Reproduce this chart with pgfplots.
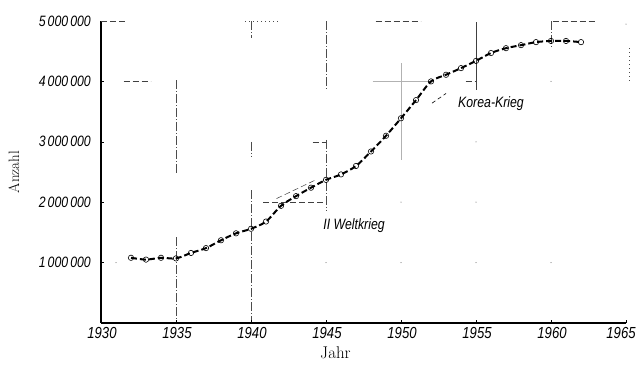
\documentclass[border=0pt]{standalone}
\usepackage{pgfplots}
\pgfplotsset{compat=1.18}
\usepackage{fontspec}
% narrow italic lettering for numbers and notes
\newfontfamily\hand[FakeStretch=0.82]{Liberation Sans}

\pgfplotstableread{
year  count
1932  1080000
1933  1050000
1934  1080000
1935  1070000
1936  1160000
1937  1240000
1938  1370000
1939  1485000
1940  1560000
1941  1680000
1942  1940000
1943  2100000
1944  2240000
1945  2370000
1946  2460000
1947  2600000
1948  2840000
1949  3100000
1950  3390000
1951  3690000
1952  4000000
1953  4110000
1954  4220000
1955  4340000
1956  4470000
1957  4550000
1958  4600000
1959  4650000
1960  4670000
1961  4670000
1962  4650000
}\bestand

\tikzset{
  gridfrag/.style={black!70, line width=0.5pt, dash pattern=on 9pt off 2pt on 1pt off 2pt},
  gridfaint/.style={black!30, line width=0.6pt},
  griddash/.style={black!75, line width=0.5pt, dash pattern=on 6pt off 3pt},
  griddot/.style={black!70, line width=0.5pt, dash pattern=on 1pt off 3pt},
  gdot/.style={black!70, line width=0pt},
}

\begin{document}
\begin{tikzpicture}
\begin{axis}[
  name=ax,
  scale only axis, width=525pt, height=302pt,
  xmin=1930, xmax=1965, ymin=0, ymax=5000000,
  axis x line=bottom, axis y line=left,
  axis line style={line width=1.1pt, -},
  xtick={1930,1935,1940,1945,1950,1955,1960},
  xticklabels={1930,1935,1940,1945,1950,1955,1960},
  extra x ticks={1965},
  extra x tick labels={1965},
  extra x tick style={xticklabel style={xshift=-6pt}},
  ytick={1000000,2000000,3000000,4000000,5000000},
  yticklabels={1\hspace{2pt}000\hspace{2pt}000,2\hspace{2pt}000\hspace{2pt}000,3\hspace{2pt}000\hspace{2pt}000,4\hspace{2pt}000\hspace{2pt}000,5\hspace{2pt}000\hspace{2pt}000},
  scaled y ticks=false,
  tick align=inside, major tick length=3pt,
  tick style={line width=0.5pt, black},
  xticklabel style={font=\hand\itshape\fontsize{16}{16}\selectfont, xshift=1pt, inner sep=1pt, yshift=-3pt},
  yticklabel style={font=\hand\itshape\fontsize{15}{15}\selectfont, inner sep=1pt, xshift=-9pt},
  xlabel={\addfontfeatures{LetterSpace=25}Jahr},
  ylabel={\addfontfeatures{LetterSpace=5}Anzahl},
  xlabel style={font=\fontsize{17}{17}\selectfont, at={(axis description cs:0.5,0)}, anchor=center, xshift=-28pt, yshift=-30pt},
  ylabel style={font=\fontsize{15}{15}\selectfont, at={(axis description cs:0,0.5)}, anchor=center, yshift=87pt},
  clip=false,
]
% remnants of the background grid
\draw[gridfrag] (1935,4020000) -- (1935,2480000);
\draw[gridfrag] (1935,1420000) -- (1935,50000);
\draw[gridfrag] (1940,5000000) -- (1940,4720000);
\draw[gridfrag] (1940,3000000) -- (1940,2750000);
\draw[gridfrag] (1940,2200000) -- (1940,50000);
\draw[gridfrag] (1945,5000000) -- (1945,3890000);
\draw[gridfrag] (1945,3030000) -- (1945,1870000);
\draw[black!75, line width=0.5pt] (1955,4980000) -- (1955,3860000);
\draw[gridfrag] (1960,5000000) -- (1960,4550000);
\draw[gridfaint] (1950,4300000) -- (1950,2700000);
\draw[gridfaint] (1948.1,4000000) -- (1951.9,4000000);
\draw[griddash] (1930,5000000) -- (1931.6,5000000);
\draw[griddot] (1939.6,5000000) -- (1941.8,5000000);
\draw[griddash] (1948.3,5000000) -- (1951.3,5000000);
\draw[griddash] (1960.1,5000000) -- (1962.9,5000000);
\draw[griddash] (1931.5,4000000) -- (1933.3,4000000);
\draw[griddash] (1954.3,4000000) -- (1955,4000000);
\draw[griddash] (1940.8,2000000) -- (1945,2000000);
\draw[griddash] (1944.1,3000000) -- (1945,3000000);
\draw[griddot] (1965.2,4550000) -- (1965.2,3970000);
\draw[griddash] (1941.7,2060000) -- (1944.4,2380000);
\fill[gdot] (1950,2000000) circle[radius=0.5pt];
\fill[gdot] (1955,2000000) circle[radius=0.5pt];
\fill[gdot] (1950,1000000) circle[radius=0.5pt];
\fill[gdot] (1955,1000000) circle[radius=0.5pt];
\fill[gdot] (1960,1000000) circle[radius=0.5pt];
\fill[gdot] (1945,1000000) circle[radius=0.5pt];
\fill[gdot] (1955,3000000) circle[radius=0.5pt];
\fill[gdot] (1960,4000000) circle[radius=0.5pt];
\fill[gdot] (1931,1000000) circle[radius=0.5pt];
\fill[gdot] (1965,4950000) circle[radius=0.5pt];

\addplot[black, line width=2pt, dash pattern=on 6pt off 3pt, smooth,
  mark=o, mark size=2.7pt, mark options={solid, fill=white, line width=0.6pt}]
  table[x=year, y=count] {\bestand};

% notes
\draw[black, line width=0.6pt, dash pattern=on 4pt off 3pt] (1952.07,3640000) -- (1953.0,3800000);
\node[font=\hand\itshape\fontsize{15}{15}\selectfont] at (1946.87,1620000) {II Weltkrieg};
\node[font=\hand\itshape\fontsize{15}{15}\selectfont] at (1956.0,3630000) {Korea-Krieg};
\end{axis}
\pgfresetboundingbox
\path ([xshift=-101pt,yshift=-42pt]ax.south west) rectangle ([xshift=538pt,yshift=323pt]ax.south west);
\end{tikzpicture}
\end{document}
